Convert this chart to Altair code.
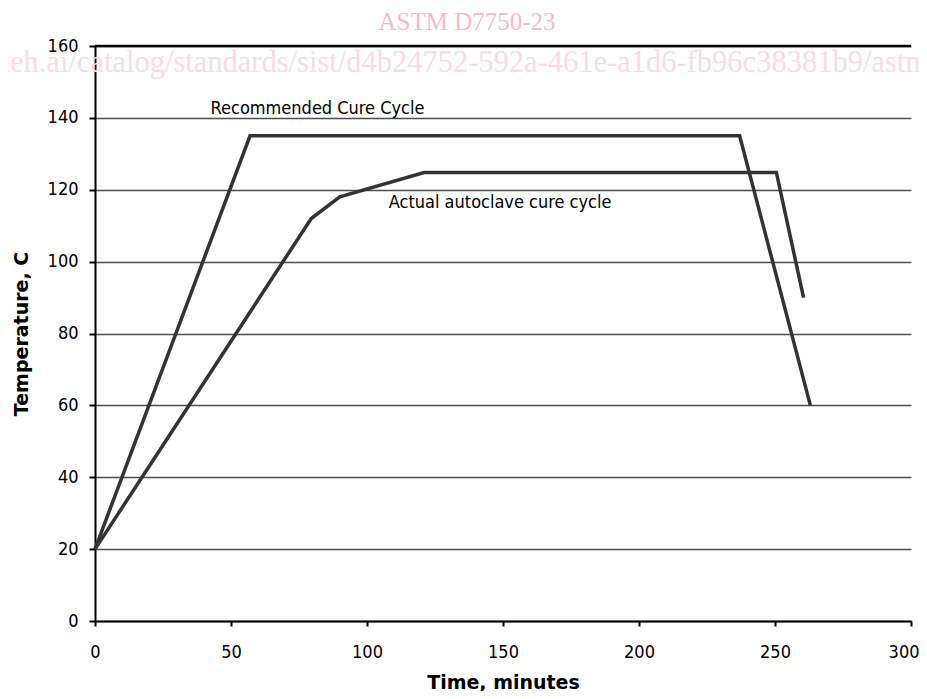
import altair as alt
import pandas as pd

# Recommended cure cycle (time in minutes, temperature in C)
rec_time = [0, 57, 237, 263]
rec_temp = [20, 135, 135, 60]

# Actual autoclave cure cycle
act_time = [0, 79.5, 90, 121, 250.5, 260.5]
act_temp = [20, 112, 118, 124.8, 124.8, 90]

x_ticks = [0, 50, 100, 150, 200, 250, 300]
y_ticks = [0, 20, 40, 60, 80, 100, 120, 140, 160]

ann_text = ["Recommended Cure Cycle", "Actual autoclave cure cycle"]
ann_x = [42.5, 108]
ann_y = [142.5, 116.4]

wm_title = "ASTM D7750-23"
wm_url = "iteh.ai/catalog/standards/sist/d4b24752-592a-461e-a1d6-fb96c38381b9/astm-d7750-23"

rows = []
for i, (t, v) in enumerate(zip(rec_time, rec_temp)):
    rows.append({"series": "Recommended", "time": t, "temp": v, "idx": i})
for i, (t, v) in enumerate(zip(act_time, act_temp)):
    rows.append({"series": "Actual", "time": t, "temp": v, "idx": i})
df = pd.DataFrame(rows)

ann_df = pd.DataFrame({"text": ann_text, "time": ann_x, "temp": ann_y})
top_df = pd.DataFrame({"temp": [160]})

TICK_FONT = "DejaVu Sans Condensed, DejaVu Sans"
TITLE_FONT = "DejaVu Sans"

xscale = alt.Scale(domain=[0, 300], nice=False, zero=False)
yscale = alt.Scale(domain=[0, 160], nice=False, zero=False)

x_axis = alt.Axis(
    values=x_ticks, title="Time, minutes", grid=False,
    domainColor="black", domainWidth=2, tickColor="black", tickWidth=2, tickSize=5,
    labelFont=TICK_FONT, labelFontSize=18, labelColor="black", labelPadding=26,
    labelBaseline="middle", labelFlush=False,
    labelAlign=alt.ExprRef(expr="datum.value >= 300 ? 'right' : 'center'"),
    labelOffset=alt.ExprRef(expr="datum.value >= 300 ? 8 : 0"),
    titleFont=TITLE_FONT, titleFontSize=19, titleFontWeight="bold", titleColor="black",
    titleX=408, titleY=67, titleBaseline="alphabetic", titleAlign="center",
)
y_axis = alt.Axis(
    values=y_ticks, title="Temperature, C", grid=True, gridColor="#4d4d4d", gridWidth=1.5,
    domainColor="black", domainWidth=2, tickColor="black", tickWidth=2, tickSize=6,
    labelFont=TICK_FONT, labelFontSize=18, labelColor="black", labelPadding=11,
    labelFlush=False,
    titleFont=TITLE_FONT, titleFontSize=19, titleFontWeight="bold", titleColor="black",
    titleX=-74, titleY=287.5, titleAngle=270, titleBaseline="middle", titleAlign="center",
)

watermark_url = alt.Chart(pd.DataFrame({"t": [wm_url]})).mark_text(
    font="Liberation Serif", fontSize=30.5, color="#f9dce4", align="left", baseline="alphabetic"
).encode(x=alt.value(-102), y=alt.value(26), text="t:N")

watermark_title = alt.Chart(pd.DataFrame({"t": [wm_title]})).mark_text(
    font="Liberation Serif", fontSize=25, color="#f3bccb", align="center", baseline="alphabetic"
).encode(x=alt.value(372), y=alt.value(-16), text="t:N")

lines = alt.Chart(df).mark_line(color="#333333", strokeWidth=3.5, strokeJoin="miter").encode(
    x=alt.X("time:Q", scale=xscale, axis=x_axis),
    y=alt.Y("temp:Q", scale=yscale, axis=y_axis),
    detail="series:N",
    order="idx:Q",
)

top_rule = alt.Chart(top_df).mark_rule(color="black", strokeWidth=2.5).encode(
    y=alt.Y("temp:Q", scale=yscale)
)

ann = alt.Chart(ann_df).mark_text(
    font=TICK_FONT, fontSize=18, color="black", align="left", baseline="middle"
).encode(
    x=alt.X("time:Q", scale=xscale),
    y=alt.Y("temp:Q", scale=yscale),
    text="text:N",
)

chart = alt.layer(watermark_url, watermark_title, lines, top_rule, ann).properties(
    width=816, height=575,
    autosize=alt.AutoSizeParams(type="none"),
    padding={"left": 87, "top": 38, "right": 8, "bottom": 70},
    background="white",
).configure_view(stroke=None)

chart.save("out.html", embed_options={"renderer": "svg", "actions": False})
